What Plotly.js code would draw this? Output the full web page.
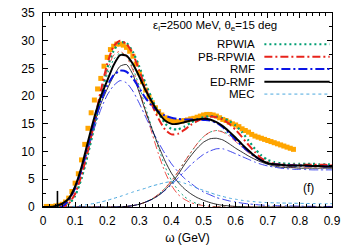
<!DOCTYPE html>
<html>
<head>
<meta charset="utf-8">
<script src="https://cdn.plot.ly/plotly-3.0.1.min.js"></script>
<style>html,body{margin:0;padding:0;background:#fff}#chart{width:356px;height:249px}</style>
</head>
<body>
<div id="chart"></div>
<script>
// omega grid (GeV) for model curves
const omega = [0,0.02,0.04,0.06,0.08,0.10,0.12,0.14,0.16,0.18,0.20,0.22,0.24,0.26,0.28,0.30,0.32,0.34,0.36,0.38,0.40,0.42,0.44,0.46,0.48,0.50,0.52,0.54,0.56,0.58,0.60,0.62,0.64,0.66,0.68,0.70,0.72,0.74,0.76,0.78,0.80,0.82,0.84,0.86,0.88,0.90];

// totals (QE + Delta + MEC)
const rpwiaTotal = [0,0,0,0,0.5,2.0,5.2,9.6,14.8,20.2,25.0,28.2,29.7,29.6,28.0,25.3,22.2,19.4,17.0,15.1,14.1,14.0,14.5,15.2,15.8,16.2,16.4,16.3,16.0,15.5,14.7,13.5,12.0,10.5,9.3,8.5,8.1,7.9,7.8,7.8,7.8,7.8,7.8,7.7,7.7,7.7];
const pbTotal    = [0,0,0,0,0.6,2.4,5.8,10.3,15.5,21.0,25.8,29.0,30.0,29.4,27.6,24.6,21.4,18.4,15.9,14.0,13.1,13.2,13.9,14.8,15.5,16.0,16.3,16.2,15.8,15.0,13.9,12.6,11.2,9.9,8.8,8.1,7.8,7.7,7.6,7.6,7.6,7.6,7.6,7.6,7.6,7.5];
const rmfTotal   = [0,0,0,0.1,1.2,3.4,6.8,11.2,15.4,19.1,21.9,23.8,24.6,24.4,23.2,21.4,19.6,18.2,17.2,16.5,16.1,15.9,15.8,15.8,15.8,15.7,15.6,15.2,14.4,13.3,12.1,11.0,10.0,9.1,8.4,7.9,7.7,7.6,7.5,7.5,7.5,7.4,7.4,7.4,7.3,7.3];
const edTotal    = [0,0,0.2,0.6,1.5,3.7,7.2,11.8,16.2,19.9,22.8,25.6,27.4,27.3,25.8,23.5,21.0,18.9,17.0,15.6,15.0,15.0,15.3,15.6,15.8,15.9,15.8,15.3,14.6,13.6,12.5,11.3,10.2,9.2,8.4,7.9,7.7,7.6,7.5,7.5,7.5,7.5,7.4,7.4,7.3,7.3];
const mec        = [0,0,0,0,0.05,0.15,0.3,0.45,0.65,0.9,1.2,1.55,1.9,2.3,2.7,3.05,3.4,3.8,4.1,4.4,4.6,4.6,4.3,3.9,3.4,3.0,2.6,2.2,1.9,1.6,1.4,1.2,1.05,0.95,0.85,0.8,0.75,0.72,0.7,0.68,0.66,0.64,0.62,0.6,0.6,0.6];

// QE contributions (thin)
const rpwiaQE = [0,0,0,0,0.5,1.9,4.9,9.1,14.1,19.3,23.8,26.6,27.8,27.3,25.0,21.8,17.9,14.1,10.6,7.3,4.8,3.1,1.9,1.1,0.6,0.3,0.15,0.05,0,0,0,0,0,0,0,0,0,0,0,0,0,0,0,0,0,0];
const pbQE    = [0,0,0,0,0.6,2.3,5.5,9.8,14.8,20.1,24.6,27.4,28.1,27.1,24.7,21.1,17.1,13.2,9.5,6.3,3.9,2.3,1.4,0.8,0.45,0.25,0.1,0.05,0,0,0,0,0,0,0,0,0,0,0,0,0,0,0,0,0,0];
const rmfQE   = [0,0,0,0.1,1.2,3.2,6.3,10.3,14.2,17.6,20.2,21.9,22.8,22.4,20.9,18.7,16.2,13.8,11.6,9.6,7.8,6.4,5.2,4.3,3.4,2.7,2.2,1.7,1.4,1.1,0.9,0.7,0.55,0.45,0.35,0.3,0.25,0.22,0.2,0.18,0.15,0.13,0.12,0.1,0.1,0.1];
const edQE    = [0,0,0.1,0.5,1.3,3.3,6.5,10.8,15.0,18.6,21.3,23.6,25.4,25.7,23.9,20.6,17.2,14.0,11.0,8.3,6.1,4.5,3.3,2.4,1.7,1.2,0.8,0.5,0.3,0.2,0.1,0.05,0,0,0,0,0,0,0,0,0,0,0,0,0,0];

// Delta contributions (thin)
const rpwiaDelta = [0,0,0,0,0,0,0,0,0,0,0,0,0.05,0.1,0.25,0.5,0.9,1.5,2.3,3.4,4.7,6.3,8.1,9.8,11.4,12.7,13.5,13.8,13.6,13.1,12.3,11.3,10.2,9.3,8.5,8.0,7.7,7.5,7.4,7.3,7.3,7.3,7.3,7.3,7.3,7.3];
const pbDelta    = [0,0,0,0,0,0,0,0,0,0,0,0,0.05,0.1,0.25,0.5,0.9,1.5,2.3,3.4,4.7,6.3,8.1,9.8,11.4,12.7,13.5,13.8,13.5,12.8,11.8,10.8,9.8,9.0,8.3,7.9,7.6,7.4,7.3,7.2,7.2,7.2,7.2,7.2,7.2,7.2];
const rmfDelta   = [0,0,0,0,0,0,0,0,0,0,0,0,0.05,0.1,0.25,0.5,0.9,1.4,2.1,3.0,4.0,5.2,6.4,7.6,8.6,9.5,10.1,10.5,10.5,10.1,9.6,9.1,8.6,8.1,7.7,7.4,7.2,7.0,6.9,6.8,6.8,6.75,6.7,6.7,6.7,6.7];
const edDelta    = [0,0,0,0,0,0,0,0,0,0,0,0.02,0.05,0.1,0.25,0.5,0.9,1.4,2.1,3.1,4.3,5.8,7.6,9.2,10.6,11.7,12.3,12.4,12.1,11.4,10.6,9.9,9.2,8.6,8.1,7.7,7.4,7.2,7.1,7.1,7.0,7.0,7.0,7.0,7.0,7.0];

// ED-RMF narrow spike
const edSpikeX = [0.045,0.045];
const edSpikeY = [0,2.9];

// experimental data
const expW = [0.01,0.02,0.03,0.04,0.05,0.06,0.07,0.08,0.09,0.10,0.11,0.12,0.13,0.14,0.15,0.16,0.17,0.18,0.19,0.20,0.21,0.22,0.23,0.24,0.25,0.26,0.27,0.28,0.29,0.30,0.31,0.32,0.33,0.34,0.35,0.36,0.37,0.38,0.39,0.40,0.41,0.42,0.43,0.44,0.45,0.46,0.47,0.48,0.49,0.50,0.51,0.52,0.53,0.54,0.55,0.56,0.57,0.58,0.59,0.60,0.61,0.62,0.63,0.64,0.65,0.66,0.67,0.68,0.69,0.70,0.71,0.72,0.73,0.74,0.75,0.76,0.77,0.78];
const expXS = [0.1,0.1,0.1,0.2,0.3,0.5,0.9,1.6,2.8,4.3,6.0,8.5,11.3,14.2,17.0,19.3,21.3,23.2,25.4,27.0,28.4,29.0,29.4,29.4,29.2,28.8,28.1,27.2,25.8,24.2,22.6,21.1,19.9,18.8,17.9,17.2,16.6,16.1,15.7,15.5,15.4,15.4,15.5,15.6,15.7,15.9,16.0,16.2,16.4,16.6,16.7,16.7,16.6,16.4,16.1,15.8,15.6,15.3,15.0,14.8,14.5,14.1,13.8,13.5,13.1,12.8,12.6,12.4,12.2,12.0,11.8,11.6,11.4,11.2,11.0,10.8,10.6,10.4];

const seriesNames = ['RPWIA','PB-RPWIA','RMF','ED-RMF','MEC'];
const titleText = 'ε<sub>i</sub>=2500 MeV, θ<sub>e</sub>=15 deg';
const panelLabel = '(f)';

const C = {rpwia:'#009e73', pb:'#e8231b', rmf:'#0a14e6', ed:'#000000', mec:'#4aa8de', exp:'#ffa500'};
const D = {rpwia:'2px,3px', pb:'8px,3px,2px,3px', rmf:'9px,3px,2px,3px', ed:'solid', mec:'3px,3px'};

function ln(x, y, color, width, dash){
  return {x:x, y:y, type:'scatter', mode:'lines', showlegend:false, hoverinfo:'skip',
          line:{color:color, width:width, dash:dash, shape:'spline', smoothing:0.6}};
}

const traces = [
  ln(omega, rpwiaQE, C.rpwia, 0.9, D.rpwia),
  ln(omega, pbQE, C.pb, 0.8, D.pb),
  ln(omega, rmfQE, C.rmf, 0.8, D.rmf),
  ln(omega, edQE, C.ed, 0.8, D.ed),
  ln(omega, rpwiaDelta, C.rpwia, 0.9, D.rpwia),
  ln(omega, pbDelta, C.pb, 0.8, D.pb),
  ln(omega, rmfDelta, C.rmf, 0.8, D.rmf),
  ln(omega, edDelta, C.ed, 0.8, D.ed),
  ln(omega, mec, C.mec, 1.0, D.mec),
  {x:expW, y:expXS, type:'scatter', mode:'markers', showlegend:false, hoverinfo:'skip',
   marker:{symbol:'square', size:5, color:C.exp, line:{width:0}}},
  ln(omega, rpwiaTotal, C.rpwia, 2.2, D.rpwia),
  ln(omega, pbTotal, C.pb, 2.0, D.pb),
  ln(omega, rmfTotal, C.rmf, 2.0, D.rmf),
  ln(omega, edTotal, C.ed, 2.0, D.ed),
  {x:edSpikeX, y:edSpikeY, type:'scatter', mode:'lines', showlegend:false, hoverinfo:'skip',
   line:{color:C.ed, width:1.6}}
];

// legend built as right-aligned text with a line sample to its right
const legColors = [C.rpwia, C.pb, C.rmf, C.ed, C.mec];
const legDash = [D.rpwia, D.pb, D.rmf, D.ed, D.mec];
const legWidth = [2.2, 2.0, 2.0, 2.0, 1.0];
const legY = [0.839, 0.775, 0.711, 0.646, 0.582];
const shapes = [];
const annotations = [];
seriesNames.forEach((n,i)=>{
  annotations.push({text:n, xref:'paper', yref:'paper', x:0.742, y:legY[i], xanchor:'right', yanchor:'middle',
    showarrow:false, font:{size:11.5, color:'#000'}});
  shapes.push({type:'line', xref:'paper', yref:'paper', x0:0.766, x1:0.992, y0:legY[i], y1:legY[i],
    line:{color:legColors[i], width:legWidth[i], dash:legDash[i]}});
});
annotations.push({text:titleText, xref:'paper', yref:'paper', x:0.372, y:0.935, xanchor:'left', yanchor:'middle',
  showarrow:false, font:{size:11.5, color:'#000'}});
annotations.push({text:panelLabel, xref:'paper', yref:'paper', x:0.917, y:0.098, xanchor:'center', yanchor:'middle',
  showarrow:false, font:{size:12, color:'#000'}});

const axisCommon = {showline:true, linecolor:'#000', linewidth:1, mirror:'allticks', ticks:'inside',
  ticklen:5, tickwidth:1, tickcolor:'#000', showgrid:false, zeroline:false,
  tickfont:{size:12, color:'#000'}};

const layout = {
  width:356, height:249,
  margin:{l:43, r:24, t:13, b:42},
  paper_bgcolor:'#fff', plot_bgcolor:'#fff',
  font:{family:'Liberation Sans, Arial, sans-serif', color:'#000'},
  xaxis:Object.assign({}, axisCommon, {range:[0,0.9], tick0:0, dtick:0.1,
    minor:{dtick:0.02, ticks:'inside', ticklen:3, tickcolor:'#000', showgrid:false},
    ticklabelstandoff:3,
    title:{text:'ω (GeV)', font:{size:12}, standoff:6}}),
  yaxis:Object.assign({}, axisCommon, {range:[0,35], tick0:0, dtick:5,
    minor:{dtick:2.5, ticks:'inside', ticklen:3, tickcolor:'#000', showgrid:false},
    ticklabelstandoff:5}),
  shapes:shapes,
  annotations:annotations,
  showlegend:false
};

Plotly.newPlot('chart', traces, layout, {staticPlot:true, displayModeBar:false});
</script>
</body>
</html>
